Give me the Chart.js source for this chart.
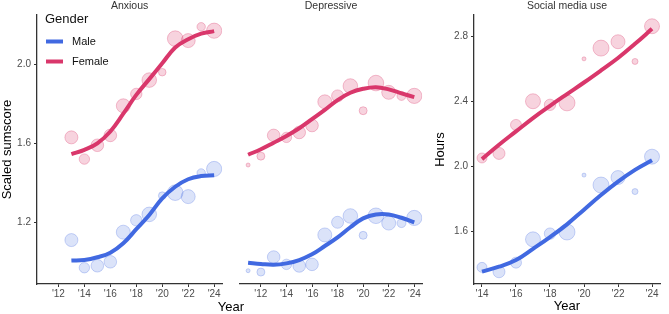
<!DOCTYPE html>
<html>
<head>
<meta charset="utf-8">
<script src="https://cdn.jsdelivr.net/npm/chart.js@4.4.1/dist/chart.umd.min.js"></script>
<style>
  html, body { margin: 0; padding: 0; background: #fff; }
  #wrap { position: relative; width: 669px; height: 314px; overflow: hidden; font-family: "Liberation Sans", Arial, sans-serif; }
  .panel { position: absolute; top: 0; height: 314px; }
  #yearShared { position: absolute; left: 131px; width: 200px; top: 299px; text-align: center; font-size: 13px; line-height: 16px; color: #000; }
</style>
</head>
<body>
<div id="wrap">
  <div class="panel" style="left:0;width:231px"><canvas id="cAnx"></canvas></div>
  <div class="panel" style="left:231px;width:200px"><canvas id="cDep"></canvas></div>
  <div class="panel" style="left:431px;width:238px"><canvas id="cSoc"></canvas></div>
  <div id="yearShared">Year</div>
</div>
<script>
// Data
const anxYears = [13, 14, 15, 16, 17, 18, 19, 20, 21, 22, 23, 24];
const anxFemale = [1.63, 1.52, 1.59, 1.64, 1.79, 1.85, 1.92, 1.96, 2.13, 2.12, 2.19, 2.17];
const anxMale = [1.11, 0.97, 0.98, 1.00, 1.15, 1.21, 1.24, 1.335, 1.35, 1.33, 1.45, 1.47];
const anxWeight = [6.5, 5.2, 6.3, 6.3, 7, 5.7, 7.3, 3.8, 7.8, 7, 4.2, 7.6];
const anxFemaleFit = [1.545, 1.567, 1.60, 1.66, 1.75, 1.845, 1.925, 2.005, 2.085, 2.127, 2.155, 2.168];
const anxMaleFit = [1.006, 1.009, 1.023, 1.046, 1.094, 1.165, 1.237, 1.321, 1.38, 1.418, 1.434, 1.438];

const depYears = [11, 12, 13, 14, 15, 16, 17, 18, 19, 20, 21, 22, 23, 24];
const depFemale = [1.49, 1.535, 1.64, 1.63, 1.655, 1.69, 1.81, 1.84, 1.89, 1.765, 1.905, 1.858, 1.84, 1.84];
const depMale = [0.955, 0.948, 1.024, 0.987, 0.979, 0.987, 1.136, 1.20, 1.232, 1.134, 1.233, 1.196, 1.196, 1.222];
const depWeight = [2, 4, 6.3, 5.2, 6.3, 6.3, 7, 6, 7.3, 4, 7.8, 7, 4.5, 7.6];
const depFemaleFit = [1.542, 1.57, 1.603, 1.637, 1.676, 1.722, 1.769, 1.819, 1.856, 1.876, 1.884, 1.873, 1.853, 1.834];
const depMaleFit = [0.995, 0.989, 0.985, 0.992, 1.009, 1.038, 1.08, 1.124, 1.175, 1.22, 1.24, 1.24, 1.223, 1.20];

const socYears = [14, 15, 16, 17, 18, 19, 20, 21, 22, 23, 24];
const socFemale = [2.052, 2.08, 2.255, 2.40, 2.378, 2.39, 2.66, 2.726, 2.765, 2.644, 2.86];
const socMale = [1.381, 1.354, 1.41, 1.553, 1.588, 1.598, 1.947, 1.886, 1.932, 1.846, 2.06];
const socWeight = [5, 6, 5.5, 7.5, 5.7, 8, 2, 8, 7, 3, 7.5];
const socFemaleFit = [2.045, 2.133, 2.215, 2.297, 2.372, 2.444, 2.515, 2.589, 2.665, 2.752, 2.844];
const socMaleFit = [1.355, 1.385, 1.426, 1.495, 1.567, 1.645, 1.735, 1.825, 1.907, 1.979, 2.038];

const yTicksScore = [1.2, 1.6, 2.0];
const yTicksHours = [1.6, 2.0, 2.4, 2.8];
const xTicksScore = [12, 14, 16, 18, 20, 22, 24];
const xTicksHours = [14, 16, 18, 20, 22, 24];

const FEMALE = '#d9376b';
const MALE = '#4169e1';
const FONT = '"Liberation Sans", Arial, Helvetica, sans-serif';

Chart.defaults.font.family = FONT;
Chart.defaults.animation = false;

function bubbles(years, vals, weights, color, alpha) {
    return {
        type: 'bubble',
        order: 2,
        data: years.map((x, i) => ({ x: x, y: vals[i], r: weights[i] })),
        backgroundColor: Chart.helpers.color(color).alpha(alpha).rgbString(),
        borderColor: Chart.helpers.color(color).alpha(alpha + 0.08).rgbString(),
        borderWidth: 1,
        hoverRadius: 0
    };
}

function fitLine(years, vals, color) {
    return {
        type: 'line',
        order: 1,
        data: years.map((x, i) => ({ x: x, y: vals[i] })),
        borderColor: color,
        borderWidth: 4,
        pointRadius: 0,
        tension: 0.4,
        fill: false
    };
}

// small title above each panel
const panelTitle = {
    id: 'panelTitle',
    afterDraw(chart, args, opts) {
        if (!opts.text) return;
        const { ctx, chartArea } = chart;
        ctx.save();
        ctx.font = '10.5px ' + FONT;
        ctx.fillStyle = '#333';
        ctx.textAlign = 'center';
        ctx.textBaseline = 'middle';
        ctx.fillText(opts.text, (chartArea.left + chartArea.right) / 2, 6);
        ctx.restore();
    }
};

// ggplot-style legend inside the first panel
const genderLegend = {
    id: 'genderLegend',
    afterDraw(chart, args, opts) {
        if (!opts.show) return;
        const ctx = chart.ctx;
        ctx.save();
        ctx.textAlign = 'left';
        ctx.textBaseline = 'middle';
        ctx.fillStyle = '#111';
        ctx.font = '13px ' + FONT;
        ctx.fillText('Gender', 45, 19);
        [['Male', MALE, 41.5], ['Female', FEMALE, 61.5]].forEach(([label, col, y]) => {
            ctx.strokeStyle = col;
            ctx.lineWidth = 4;
            ctx.beginPath();
            ctx.moveTo(46, y);
            ctx.lineTo(63, y);
            ctx.stroke();
            ctx.font = '11px ' + FONT;
            ctx.fillStyle = '#111';
            ctx.fillText(label, 72, y);
        });
        ctx.restore();
    }
};

function makePanel(id, cfg) {
    const yScale = {
        type: 'linear',
        min: cfg.yMin,
        max: cfg.yMax,
        display: cfg.showY,
        afterBuildTicks: s => { s.ticks = cfg.yTicks.map(v => ({ value: v })); },
        afterFit: s => { s.width = cfg.yWidth; },
        ticks: { callback: v => v.toFixed(1), color: '#4d4d4d', font: { size: 10 }, padding: 3 },
        grid: { drawOnChartArea: false, drawTicks: true, tickLength: 3, tickColor: '#333', tickWidth: 1 },
        border: { display: true, color: '#333', width: 1.3 },
        title: {
            display: !!cfg.yTitle,
            text: cfg.yTitle,
            color: '#000',
            font: { size: 13, lineHeight: 1.2 },
            padding: { top: cfg.yTitlePad || 0, bottom: 0 }
        }
    };
    const xScale = {
        type: 'linear',
        min: cfg.xMin,
        max: cfg.xMax,
        afterBuildTicks: s => { s.ticks = cfg.xTicks.map(v => ({ value: v })); },
        afterFit: s => { s.height = 30; },
        ticks: { callback: v => "'" + v, color: '#4d4d4d', font: { size: 10 }, padding: 1, maxRotation: 0 },
        grid: { drawOnChartArea: false, drawTicks: true, tickLength: 3, tickColor: '#333', tickWidth: 1 },
        border: { display: true, color: '#333', width: 1.3 },
        title: {
            display: !!cfg.xTitle,
            text: cfg.xTitle,
            color: '#000',
            font: { size: 13, lineHeight: 1.1 },
            padding: 0
        }
    };
    return new Chart(document.getElementById(id), {
        type: 'bubble',
        data: { datasets: cfg.datasets },
        options: {
            responsive: true,
            maintainAspectRatio: false,
            layout: { padding: { left: cfg.padLeft, right: cfg.padRight, top: 15, bottom: 0 } },
            scales: { x: xScale, y: yScale },
            plugins: {
                legend: { display: false },
                tooltip: { enabled: false },
                panelTitle: { text: cfg.title },
                genderLegend: { show: !!cfg.legend }
            }
        },
        plugins: [panelTitle, genderLegend]
    });
}

makePanel('cAnx', {
    title: 'Anxious',
    legend: true,
    showY: true, yWidth: 37, yTitle: 'Scaled sumscore',
    padLeft: 0, padRight: 4,
    yMin: 0.8876, yMax: 2.2496, yTicks: yTicksScore,
    xMin: 10.35, xMax: 24.62, xTicks: xTicksScore,
    datasets: [
        fitLine(anxYears, anxFemaleFit, FEMALE),
        fitLine(anxYears, anxMaleFit, MALE),
        bubbles(anxYears, anxFemale, anxWeight, FEMALE, 0.22),
        bubbles(anxYears, anxMale, anxWeight, MALE, 0.19)
    ]
});

makePanel('cDep', {
    title: 'Depressive',
    showY: false, yWidth: 0,
    padLeft: 3, padRight: 7,
    yMin: 0.8876, yMax: 2.2496, yTicks: yTicksScore,
    xMin: 10.35, xMax: 24.62, xTicks: xTicksScore,
    datasets: [
        fitLine(depYears, depFemaleFit, FEMALE),
        fitLine(depYears, depMaleFit, MALE),
        bubbles(depYears, depFemale, depWeight, FEMALE, 0.22),
        bubbles(depYears, depMale, depWeight, MALE, 0.19)
    ]
});

makePanel('cSoc', {
    title: 'Social media use',
    showY: true, yWidth: 43, yTitle: 'Hours', yTitlePad: 1.2,
    xTitle: 'Year',
    padLeft: 0, padRight: 2,
    yMin: 1.279, yMax: 2.929, yTicks: yTicksHours,
    xMin: 13.53, xMax: 24.47, xTicks: xTicksHours,
    datasets: [
        fitLine(socYears, socFemaleFit, FEMALE),
        fitLine(socYears, socMaleFit, MALE),
        bubbles(socYears, socFemale, socWeight, FEMALE, 0.22),
        bubbles(socYears, socMale, socWeight, MALE, 0.19)
    ]
});
</script>
</body>
</html>
